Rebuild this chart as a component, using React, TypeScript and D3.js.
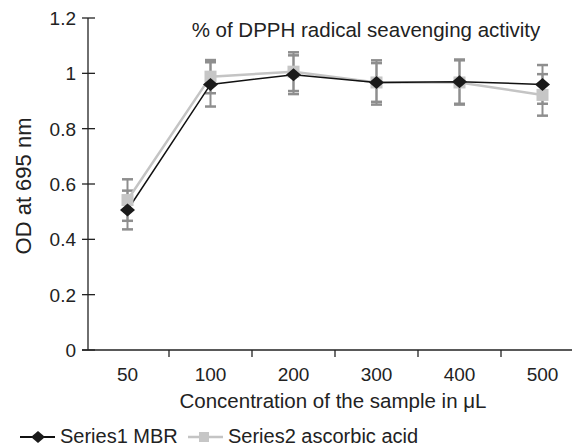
import * as d3 from "d3";
import React, { useEffect, useRef } from "react";

const categories = ["50", "100", "200", "300", "400", "500"];
const mbrValues = [0.506, 0.96, 0.995, 0.967, 0.97, 0.96];
const mbrErrors = [0.07, 0.08, 0.07, 0.08, 0.08, 0.07];
const ascorbicValues = [0.542, 0.988, 1.006, 0.967, 0.967, 0.922];
const ascorbicErrors = [0.075, 0.06, 0.07, 0.07, 0.08, 0.075];
const yTicks = [0, 0.2, 0.4, 0.6, 0.8, 1, 1.2];

export default function App() {
  const svgRef = useRef<SVGSVGElement>(null);

  useEffect(() => {
    const svg = d3.select(svgRef.current);
    svg.selectAll("*").remove();

    const font = "Liberation Sans, Arial, sans-serif";
    const ink = "#222";
    const left = 86;
    const bandW = 83;
    const x = d3.scaleBand().domain(categories).range([left, left + bandW * 6]);
    const y = d3.scaleLinear().domain([0, 1.2]).range([350, 18]);
    const cx = (c: string) => (x(c) as number) + x.bandwidth() / 2;

    // Y axis
    svg.append("line")
      .attr("x1", 88).attr("x2", 88)
      .attr("y1", y(1.2)).attr("y2", y(0))
      .attr("stroke", ink).attr("stroke-width", 1.3);
    yTicks.forEach(t => {
      svg.append("line")
        .attr("x1", 82).attr("x2", 95)
        .attr("y1", y(t)).attr("y2", y(t))
        .attr("stroke", ink).attr("stroke-width", 1.3);
      svg.append("text")
        .attr("x", 76).attr("y", y(t) + 7)
        .attr("text-anchor", "end")
        .style("font-family", font).style("font-size", "19px").attr("fill", ink)
        .text(String(t));
    });

    // X axis
    svg.append("line")
      .attr("x1", 82).attr("x2", 572)
      .attr("y1", y(0)).attr("y2", y(0))
      .attr("stroke", ink).attr("stroke-width", 1.3);
    categories.forEach((c, i) => {
      if (i > 0) {
        const tx = x(c) as number;
        svg.append("line")
          .attr("x1", tx).attr("x2", tx)
          .attr("y1", y(0)).attr("y2", y(0) + 7)
          .attr("stroke", ink).attr("stroke-width", 1.3);
      }
      svg.append("text")
        .attr("x", cx(c)).attr("y", 381)
        .attr("text-anchor", "middle")
        .style("font-family", font).style("font-size", "19px").attr("fill", ink)
        .text(c);
    });
    const lastTick = left + bandW * 6;
    svg.append("line")
      .attr("x1", lastTick).attr("x2", lastTick)
      .attr("y1", y(0)).attr("y2", y(0) + 7)
      .attr("stroke", ink);

    // Axis titles
    svg.append("text")
      .attr("x", 333).attr("y", 408)
      .attr("text-anchor", "middle")
      .style("font-family", font).style("font-size", "20.5px").attr("fill", ink)
      .text("Concentration of the sample in μL");
    svg.append("text")
      .attr("transform", `translate(31,186) rotate(-90)`)
      .attr("text-anchor", "middle")
      .style("font-family", font).style("font-size", "22px").attr("fill", ink)
      .text("OD at 695 nm");

    // Title
    svg.append("text")
      .attr("x", 366).attr("y", 37)
      .attr("text-anchor", "middle")
      .style("font-family", font).style("font-size", "20.5px").attr("fill", ink)
      .text("% of DPPH radical seavenging activity");

    // Error bars
    const errColor = "#8e8e8e";
    const drawErr = (vals: number[], errs: number[]) => {
      categories.forEach((c, i) => {
        const px = cx(c);
        const top = y(vals[i] + errs[i]);
        const bot = y(vals[i] - errs[i]);
        svg.append("line").attr("x1", px).attr("x2", px).attr("y1", top).attr("y2", bot)
          .attr("stroke", errColor).attr("stroke-width", 2);
        [top, bot].forEach(yy => {
          svg.append("line").attr("x1", px - 5.5).attr("x2", px + 5.5).attr("y1", yy).attr("y2", yy)
            .attr("stroke", errColor).attr("stroke-width", 2.5);
        });
      });
    };
    drawErr(ascorbicValues, ascorbicErrors);
    drawErr(mbrValues, mbrErrors);

    const line = d3.line<number>()
      .x((_, i) => cx(categories[i]))
      .y(d => y(d));

    // Series 2 (ascorbic acid)
    svg.append("path").datum(ascorbicValues)
      .attr("fill", "none").attr("stroke", "#c4c4c4").attr("stroke-width", 2.5)
      .attr("d", line);
    // Series 1 (MBR)
    svg.append("path").datum(mbrValues)
      .attr("fill", "none").attr("stroke", "#111").attr("stroke-width", 1.5)
      .attr("d", line);

    const square = (px: number, py: number, s: number) =>
      svg.append("rect").attr("x", px - s / 2).attr("y", py - s / 2)
        .attr("width", s).attr("height", s).attr("fill", "#c6c6c6");
    const diamond = (px: number, py: number, w: number, h: number) =>
      svg.append("path")
        .attr("d", `M${px},${py - h / 2}L${px + w / 2},${py}L${px},${py + h / 2}L${px - w / 2},${py}Z`)
        .attr("fill", "#1a1a1a");

    ascorbicValues.forEach((v, i) => square(cx(categories[i]), y(v), 12));
    mbrValues.forEach((v, i) => diamond(cx(categories[i]), y(v), 15, 13));

    // Legend
    const ly = 437;
    svg.append("line").attr("x1", 20).attr("x2", 55).attr("y1", ly).attr("y2", ly)
      .attr("stroke", "#111").attr("stroke-width", 1.8);
    diamond(38, ly, 14, 12);
    svg.append("text").attr("x", 60).attr("y", 443)
      .style("font-family", font).style("font-size", "20px").attr("fill", ink)
      .text("Series1 MBR");
    svg.append("line").attr("x1", 188).attr("x2", 223).attr("y1", ly).attr("y2", ly)
      .attr("stroke", "#c4c4c4").attr("stroke-width", 2.5);
    square(204, ly, 10);
    svg.append("text").attr("x", 228).attr("y", 443)
      .style("font-family", font).style("font-size", "20px").attr("fill", ink)
      .text("Series2 ascorbic acid");
  }, []);

  return (
    <svg ref={svgRef} width={572} height={448}
      style={{ position: "absolute", left: 0, top: 0, background: "#fff" }} />
  );
}
